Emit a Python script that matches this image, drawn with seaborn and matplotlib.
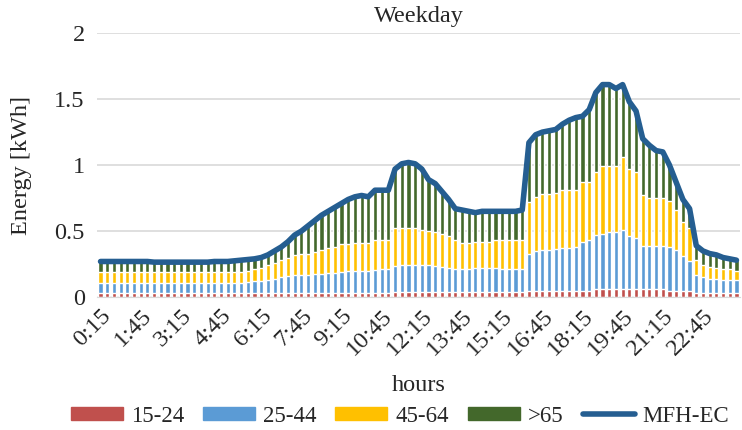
import numpy as np
import pandas as pd
import matplotlib
matplotlib.use("Agg")
import matplotlib.pyplot as plt
import seaborn as sns
from matplotlib.patches import Patch
from matplotlib.lines import Line2D

# time slots (15 min) from 0:15 to 24:00
heures = ["%d:%02d" % (((i + 1) * 15) // 60 % 24, ((i + 1) * 15) % 60) for i in range(96)]

# energie par tranche d'age [kWh]
age_15_24 = [0.03] * 24 + [0.035] * 20 + [0.04] * 20 + [0.05] * 10 + \
    [0.06, 0.06, 0.065, 0.065, 0.065, 0.065, 0.065, 0.06, 0.06, 0.06, 0.06] + \
    [0.05] * 4 + [0.03] * 7

age_25_44 = [0.08] * 22 + [
    0.085, 0.09, 0.09, 0.095, 0.105, 0.115, 0.125, 0.135, 0.135, 0.135,
    0.14, 0.14, 0.145, 0.15, 0.155, 0.16, 0.165, 0.165, 0.165, 0.17,
    0.175, 0.175, 0.195, 0.205, 0.205, 0.205, 0.20, 0.20, 0.195, 0.19,
    0.18, 0.175, 0.17, 0.175, 0.18, 0.18, 0.18, 0.18, 0.17, 0.17,
    0.17, 0.17, 0.28, 0.30, 0.305, 0.31, 0.315, 0.32, 0.325, 0.33,
    0.37, 0.38, 0.41, 0.42, 0.425, 0.425, 0.445, 0.395, 0.385, 0.33,
    0.33, 0.33, 0.33, 0.33, 0.31, 0.26, 0.22, 0.14, 0.12, 0.11,
    0.11, 0.10, 0.10, 0.10]

age_45_64 = [0.08] * 22 + [
    0.085, 0.09, 0.095, 0.11, 0.12, 0.13, 0.14, 0.15, 0.16, 0.16,
    0.165, 0.185, 0.19, 0.195, 0.21, 0.205, 0.21, 0.21, 0.21, 0.225,
    0.22, 0.22, 0.285, 0.275, 0.275, 0.275, 0.27, 0.26, 0.255, 0.25,
    0.24, 0.215, 0.20, 0.195, 0.20, 0.20, 0.20, 0.21, 0.22, 0.22,
    0.22, 0.22, 0.39, 0.41, 0.425, 0.42, 0.425, 0.44, 0.435, 0.43,
    0.45, 0.44, 0.48, 0.51, 0.50, 0.50, 0.55, 0.51, 0.50, 0.38,
    0.36, 0.36, 0.36, 0.35, 0.30, 0.26, 0.25, 0.11, 0.09, 0.09,
    0.08, 0.08, 0.08, 0.07]

age_65_plus = [
    0.08, 0.08, 0.08, 0.08, 0.08, 0.08, 0.08, 0.08, 0.075, 0.075,
    0.075, 0.075, 0.075, 0.075, 0.075, 0.075, 0.075, 0.08, 0.08, 0.08,
    0.085, 0.09, 0.085, 0.08, 0.08, 0.08, 0.09, 0.10, 0.12, 0.15,
    0.17, 0.21, 0.24, 0.26, 0.28, 0.30, 0.31, 0.34, 0.35, 0.36,
    0.35, 0.38, 0.38, 0.38, 0.45, 0.49, 0.50, 0.49, 0.46, 0.39,
    0.37, 0.32, 0.28, 0.24, 0.25, 0.24, 0.22, 0.23, 0.23, 0.22,
    0.22, 0.22, 0.22, 0.23, 0.45, 0.47, 0.47, 0.48, 0.48, 0.50,
    0.53, 0.55, 0.50, 0.55, 0.60, 0.62, 0.62, 0.59, 0.55, 0.51,
    0.46, 0.43, 0.40, 0.36, 0.35, 0.27, 0.21, 0.17, 0.15, 0.11,
    0.11, 0.10, 0.10, 0.09, 0.08, 0.08]

mfh_ec = [
    0.27, 0.27, 0.27, 0.27, 0.27, 0.27, 0.27, 0.27, 0.265, 0.265,
    0.265, 0.265, 0.265, 0.265, 0.265, 0.265, 0.265, 0.27, 0.27, 0.27,
    0.275, 0.28, 0.285, 0.29, 0.30, 0.32, 0.35, 0.38, 0.42, 0.47,
    0.50, 0.54, 0.58, 0.62, 0.65, 0.68, 0.71, 0.74, 0.76, 0.77,
    0.76, 0.81, 0.81, 0.81, 0.97, 1.01, 1.02, 1.01, 0.97, 0.89,
    0.86, 0.80, 0.74, 0.67, 0.66, 0.65, 0.64, 0.65, 0.65, 0.65,
    0.65, 0.65, 0.65, 0.66, 1.17, 1.23, 1.25, 1.26, 1.27, 1.31,
    1.34, 1.36, 1.37, 1.42, 1.55, 1.61, 1.61, 1.58, 1.61, 1.48,
    1.41, 1.20, 1.15, 1.11, 1.10, 1.00, 0.87, 0.74, 0.67, 0.39,
    0.35, 0.33, 0.32, 0.30, 0.29, 0.28]

groupes = ["15-24", "25-44", "45-64", ">65"]
couleurs = ["#C0504D", "#5B9BD5", "#FFC000", "#43682B"]

df = pd.DataFrame({"heure": heures, "15-24": age_15_24, "25-44": age_25_44,
                   "45-64": age_45_64, ">65": age_65_plus})
cumul = df[groupes].cumsum(axis=1)

sns.set_style("white")
plt.rcParams["font.family"] = ["Liberation Serif", "DejaVu Serif"]
fs = 17.5

fig, ax = plt.subplots(figsize=(7.42, 4.30), dpi=100)
fig.subplots_adjust(left=0.131, right=0.997, bottom=0.309, top=0.923)

# barres empilees : on dessine les cumuls du plus grand au plus petit
for g, c in zip(groupes[::-1], couleurs[::-1]):
    sns.barplot(x=df["heure"], y=cumul[g], color=c, width=0.62,
                saturation=1, ax=ax, zorder=2)

sns.lineplot(x=np.arange(96), y=mfh_ec, color="#255E91", linewidth=4,
             ax=ax, zorder=3, solid_joinstyle="round", solid_capstyle="round")

ax.set_xlim(-0.5, 95.5)
ax.set_ylim(0, 2)
ax.set_yticks([0, 0.5, 1, 1.5, 2])
ax.set_yticklabels(["0", "0.5", "1", "1.5", "2"], fontsize=fs)
ax.set_xticks(range(0, 96, 6))
ax.set_xticklabels(heures[::6], rotation=45, ha="right",
                   rotation_mode="anchor", fontsize=fs)
ax.tick_params(axis="y", length=0, pad=9)
ax.tick_params(axis="x", length=0, pad=6)
ax.yaxis.grid(True, color="#D9D9D9", linewidth=1.2, zorder=0)
ax.set_axisbelow(True)
for s in ["top", "right", "left"]:
    ax.spines[s].set_visible(False)
ax.spines["bottom"].set_color("#D9D9D9")
ax.set_title("Weekday", fontsize=fs, pad=8)
ax.set_xlabel("hours", fontsize=fs, labelpad=11)
ax.set_ylabel("Energy [kWh]", fontsize=fs, labelpad=16)

handles = [Patch(color=c, label=g) for g, c in zip(groupes, couleurs)]
handles.append(Line2D([], [], color="#255E91", linewidth=4,
                      solid_capstyle="round", label="MFH-EC"))
fig.legend(handles=handles, loc="lower center", ncol=5, frameon=False,
           fontsize=16.5, handlelength=2.27, handleheight=0.55,
           columnspacing=0.83, handletextpad=0.35,
           bbox_to_anchor=(0.539, -0.04))

plt.savefig("out.png", dpi=100)
